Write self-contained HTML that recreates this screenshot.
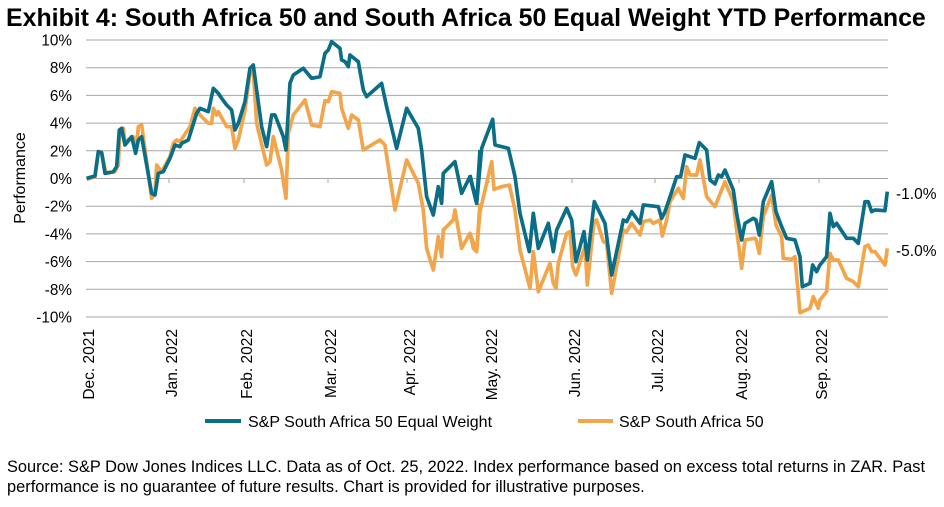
<!DOCTYPE html>
<html><head><meta charset="utf-8"><style>
body{margin:0;background:#fff;width:944px;height:502px;overflow:hidden;font-family:"Liberation Sans",Arial,sans-serif}
</style></head><body>
<svg width="944" height="502" xmlns="http://www.w3.org/2000/svg" font-family="Liberation Sans, Arial, sans-serif">
<text x="6" y="26" font-size="24.9" font-weight="bold" fill="#000">Exhibit 4: South Africa 50 and South Africa 50 Equal Weight YTD Performance</text>
<g stroke="#a6a6a6" stroke-width="1">
<line x1="86" x2="888" y1="40" y2="40"/><line x1="86" x2="888" y1="67.7" y2="67.7"/><line x1="86" x2="888" y1="95.4" y2="95.4"/><line x1="86" x2="888" y1="123.1" y2="123.1"/><line x1="86" x2="888" y1="150.8" y2="150.8"/><line x1="86" x2="888" y1="178.5" y2="178.5"/><line x1="86" x2="888" y1="206.2" y2="206.2"/><line x1="86" x2="888" y1="233.9" y2="233.9"/><line x1="86" x2="888" y1="261.6" y2="261.6"/><line x1="86" x2="888" y1="289.3" y2="289.3"/><line x1="86" x2="888" y1="317" y2="317"/>
<line x1="169" x2="169" y1="178.5" y2="183"/><line x1="244" x2="244" y1="178.5" y2="183"/><line x1="328" x2="328" y1="178.5" y2="183"/><line x1="407" x2="407" y1="178.5" y2="183"/><line x1="489" x2="489" y1="178.5" y2="183"/><line x1="572" x2="572" y1="178.5" y2="183"/><line x1="655" x2="655" y1="178.5" y2="183"/><line x1="739" x2="739" y1="178.5" y2="183"/><line x1="819" x2="819" y1="178.5" y2="183"/>
</g>
<g font-size="15.3" fill="#000" text-anchor="end">
<text x="72" y="45.5">10%</text><text x="72" y="73.2">8%</text><text x="72" y="100.9">6%</text><text x="72" y="128.6">4%</text><text x="72" y="156.3">2%</text><text x="72" y="184">0%</text><text x="72" y="211.7">-2%</text><text x="72" y="239.4">-4%</text><text x="72" y="267.1">-6%</text><text x="72" y="294.8">-8%</text><text x="72" y="322.5">-10%</text>
</g>
<text transform="translate(25,178) rotate(-90)" font-size="16" text-anchor="middle">Performance</text>
<g font-size="15.5" text-anchor="end">
<text transform="translate(94,329) rotate(-90)">Dec. 2021</text>
<text transform="translate(177,329) rotate(-90)">Jan. 2022</text>
<text transform="translate(252,329) rotate(-90)">Feb. 2022</text>
<text transform="translate(336,329) rotate(-90)">Mar. 2022</text>
<text transform="translate(415,329) rotate(-90)">Apr. 2022</text>
<text transform="translate(497,329) rotate(-90)">May. 2022</text>
<text transform="translate(580,329) rotate(-90)">Jun. 2022</text>
<text transform="translate(663,329) rotate(-90)">Jul. 2022</text>
<text transform="translate(747,329) rotate(-90)">Aug. 2022</text>
<text transform="translate(827,329) rotate(-90)">Sep. 2022</text>
</g>
<g fill="none" stroke-width="11" stroke-linejoin="round">
<g transform="translate(0,30) scale(0.3333)">
<polyline stroke="#f2a54a" points="260,448 285,440 295,365 305,368 318,430 345,425 355,405 360,300 370,295 375,335 400,320 410,345 415,290 425,285 455,505 465,490 470,405 485,425 510,380 520,340 530,330 540,335 570,290 585,235 600,255 625,280 635,280 640,235 650,255 655,245 680,290 695,290 705,355 715,330 735,240 750,130 760,125 770,280 800,405 810,395 820,320 845,420 858,505 865,310 880,255 915,210 935,285 960,290 975,212 985,215 995,185 1020,190 1025,235 1045,295 1055,255 1075,270 1090,360 1140,330 1155,345 1185,540 1220,390 1255,460 1270,540 1280,655 1300,720 1315,620 1325,680 1330,600 1360,570 1365,540 1385,655 1410,610 1430,665 1440,520"/>
<polyline stroke="#0b6e87" points="260,445 285,438 295,365 305,368 315,430 340,425 350,410 358,300 365,295 375,345 395,320 407,370 415,330 425,320 455,490 465,495 475,430 490,425 510,385 525,345 540,350 545,340 565,330 590,250 600,235 625,245 640,175 655,190 665,205 680,225 695,240 705,300 715,280 735,215 750,115 760,105 770,180 785,290 800,350 815,255 825,255 850,320 858,360 870,160 880,135 910,115 935,145 960,140 975,70 985,60 995,35 1020,55 1025,90 1035,95 1045,110 1050,75 1075,95 1090,180 1100,200 1145,160 1160,230 1190,355 1220,235 1255,295 1265,360 1280,500 1300,555 1315,470 1325,520 1330,430 1365,395 1385,490 1410,440 1430,520 1440,360"/>
</g>
<g transform="translate(470,30) scale(0.3333)">
<polyline stroke="#f2a54a" points="0,610 10,655 20,665 30,545 65,395 72,478 95,470 118,465 135,540 150,660 180,775 190,665 205,785 240,700 250,760 258,775 265,700 290,610 300,605 308,710 318,735 345,648 352,765 372,575 380,570 400,635 410,640 425,790 460,600 470,605 485,580 510,615 520,575 540,570 550,580 570,570 577,618 590,570 600,515 625,475 640,505 650,410 660,435 680,435 690,390 710,500 735,530 745,505 765,455 790,515 800,600 815,715 825,630 855,625 858,628 868,670 880,560 905,495 918,585 935,620 940,685 965,688 975,680 990,848 1020,835 1030,800 1045,835 1050,810 1070,785 1080,670 1090,690 1105,690 1130,745 1150,755 1165,770 1185,650 1195,645 1205,665 1215,665 1245,705 1252,655"/>
<polyline stroke="#0b6e87" points="0,435 20,520 35,355 68,268 75,345 115,355 135,440 150,550 178,665 190,550 205,655 235,580 250,665 260,600 290,535 305,570 318,695 342,605 352,690 373,515 405,580 425,735 460,570 470,575 485,545 510,580 520,525 565,530 575,565 585,545 597,510 620,440 632,440 645,375 675,385 688,338 710,360 720,450 735,462 745,435 755,440 765,420 790,480 800,550 815,630 825,580 850,565 858,570 868,615 880,515 905,455 918,545 935,590 950,625 975,630 990,680 997,770 1020,760 1028,705 1040,725 1050,705 1070,680 1080,550 1090,590 1100,580 1130,625 1150,625 1165,640 1185,515 1195,515 1205,545 1215,540 1245,542 1252,485"/>
</g>
</g>
<text x="896" y="199" font-size="15.5">-1.0%</text>
<text x="896" y="256" font-size="15.5">-5.0%</text>
<line x1="205" x2="241" y1="421" y2="421" stroke="#0b6e87" stroke-width="4"/>
<text x="248" y="427" font-size="16">S&amp;P South Africa 50 Equal Weight</text>
<line x1="578" x2="613" y1="421" y2="421" stroke="#f2a54a" stroke-width="4"/>
<text x="619" y="427" font-size="16">S&amp;P South Africa 50</text>
<text x="7" y="472" font-size="16.4">Source: S&amp;P Dow Jones Indices LLC. Data as of Oct. 25, 2022. Index performance based on excess total returns in ZAR. Past</text>
<text x="7" y="492" font-size="16.4">performance is no guarantee of future results. Chart is provided for illustrative purposes.</text>
</svg>
</body></html>
